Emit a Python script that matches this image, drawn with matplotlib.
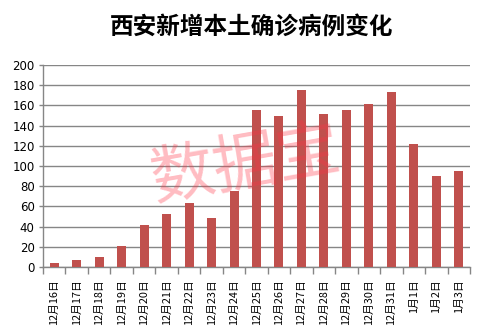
import matplotlib
matplotlib.use("Agg")
import matplotlib.pyplot as plt

plt.rcParams['font.family'] = ['Noto Sans CJK SC', 'DejaVu Sans']

dates = ["12月16日", "12月17日", "12月18日", "12月19日", "12月20日", "12月21日",
         "12月22日", "12月23日", "12月24日", "12月25日", "12月26日", "12月27日",
         "12月28日", "12月29日", "12月30日", "12月31日", "1月1日", "1月2日", "1月3日"]
cases = [4, 7, 10, 21, 42, 52, 63, 49, 75, 155, 150, 175, 151, 155, 161, 173, 122, 90, 95]
yticks = [0, 20, 40, 60, 80, 100, 120, 140, 160, 180, 200]
title = "西安新增本土确诊病例变化"
watermark = "数据宝"

fig = plt.figure(figsize=(4.91, 3.35), dpi=100)
ax = fig.add_axes([43/491, 68/335, (470-43)/491, (267-65)/335])

x = list(range(len(dates)))
ax.bar(x, cases, width=0.4, color="#C0504D", zorder=3)

ax.set_xlim(-0.5, len(dates) - 0.5)
ax.set_ylim(0, 200)
ax.set_yticks(yticks)
ax.yaxis.grid(True, color="#868686", linewidth=1.0, zorder=0)
ax.set_axisbelow(True)

for s in ["top", "right"]:
    ax.spines[s].set_visible(False)
for s in ["left", "bottom"]:
    ax.spines[s].set_color("#868686")
    ax.spines[s].set_linewidth(1.0)

ax.set_xticks([i - 0.5 for i in range(len(dates) + 1)], minor=False)
ax.set_xticklabels([])
ax.set_xticks(x, minor=True)
ax.set_xticklabels(dates, minor=True, rotation=90, fontsize=7.8, va="top", ha="center")
ax.tick_params(axis="x", which="major", length=5, color="#868686", width=1)
ax.tick_params(axis="x", which="minor", length=0, pad=9)
ax.tick_params(axis="y", length=3, color="#868686", width=1, labelsize=8.5, pad=3)
for lab in ax.get_yticklabels():
    lab.set_family(['DejaVu Sans'])

fig.text(252/491, 1 - 27/335, title, ha="center", va="center",
         fontsize=17, fontweight="bold", color="black")

fig.text(246/491, 1 - 165/335, watermark, ha="center", va="center",
         fontsize=46, color="#FF3344", alpha=0.33, rotation=10, zorder=10)

fig.savefig("out.png", dpi=100)
